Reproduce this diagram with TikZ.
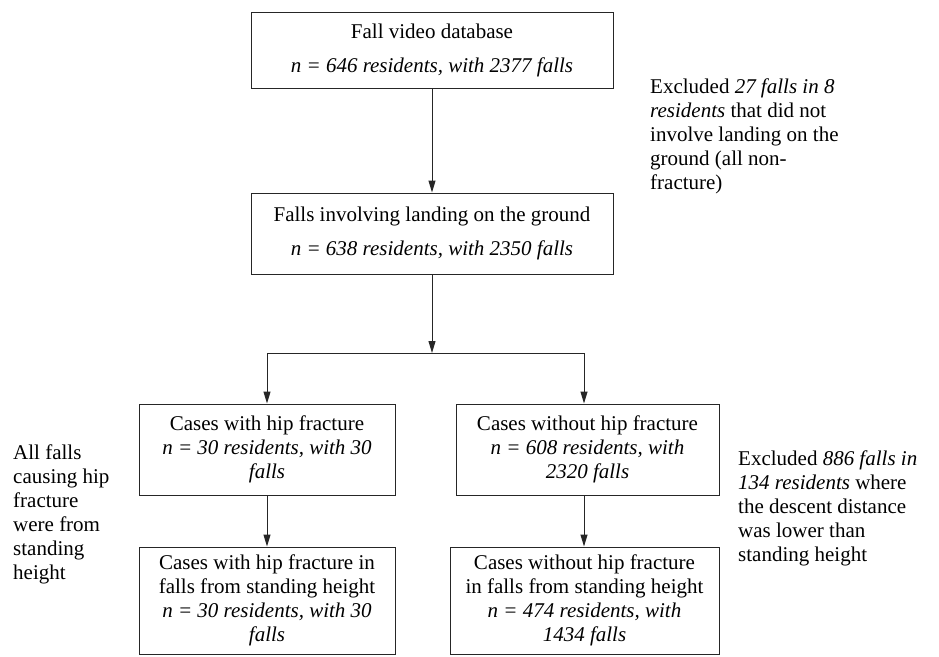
\documentclass[tikz,border=0pt]{standalone}
\usepackage{fontspec}
\setmainfont{Liberation Serif}
\usetikzlibrary{arrows.meta}
\begin{document}
\begin{tikzpicture}[x=1pt,y=-1pt,
  box/.style={draw=black!85, line width=1pt, align=center, inner sep=0pt, font=\fontsize{21}{24}\selectfont},
  arr/.style={-{Triangle[length=12pt,width=7pt]}, line width=1pt, draw=black!85},
  side/.style={align=left, anchor=base west, inner sep=0pt, font=\fontsize{21}{24}\selectfont}]
\useasboundingbox (0,0) rectangle (939,656);
\node[box, minimum width=362pt, minimum height=76pt] (b1) at (432,50)
  {Fall video database\\[10pt]\textit{n = 646 residents, with 2377 falls}};
\node[box, minimum width=362pt, minimum height=81pt] (b2) at (432,233.5)
  {Falls involving landing on the ground\\[10pt]\textit{n = 638 residents, with 2350 falls}};
\node[box, minimum width=256pt, minimum height=91pt] (b3) at (267,449.5)
  {Cases with hip fracture\\\textit{n = 30 residents, with 30}\\\textit{falls}};
\node[box, minimum width=263pt, minimum height=91pt] (b4) at (587.5,449.5)
  {Cases without hip fracture\\\textit{n = 608 residents, with}\\\textit{2320 falls}};
\node[box, minimum width=256pt, minimum height=107pt] (b5) at (267,600.5)
  {Cases with hip fracture in\\falls from standing height\\\textit{n = 30 residents, with 30}\\\textit{falls}};
\node[box, minimum width=269pt, minimum height=107pt] (b6) at (584.5,600.5)
  {Cases without hip fracture\\in falls from standing height\\\textit{n = 474 residents, with}\\\textit{1434 falls}};
\coordinate (M) at (432,353);
\coordinate (L) at (267,353);
\coordinate (R) at (584,353);
\draw[arr] (b1.south) -- (b2.north);
\draw[arr] (b2.south) -- (M);
\draw[line width=1pt, draw=black!85] (L) -- (R);
\draw[arr] (L) -- (L |- b3.north);
\draw[arr] (R) -- (R |- b4.north);
\draw[arr] (b3.south) -- (b5.north);
\draw[arr] (R |- b4.south) -- (R |- b6.north);
\node[side] (t1) at (650,189)
  {Excluded \textit{27 falls in 8}\\\textit{residents} that did not\\involve landing on the\\ground (all non-\\fracture)};
\node[side] (t2) at (13,579)
  {All falls\\causing hip\\fracture\\were from\\standing\\height};
\node[side] (t3) at (738,561)
  {Excluded \textit{886 falls in}\\\textit{134 residents} where\\the descent distance\\was lower than\\standing height};
\end{tikzpicture}
\end{document}
